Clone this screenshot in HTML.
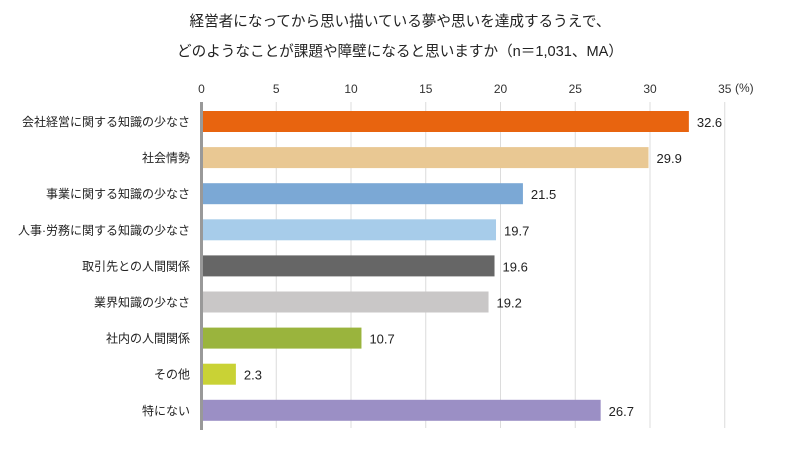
<!DOCTYPE html>
<html><head><meta charset="utf-8">
<style>
body{margin:0;background:#fff;}
svg text{font-family:"Liberation Sans","Noto Sans CJK JP",sans-serif;}
</style></head>
<body>
<svg id="chart" width="794" height="448" viewBox="0 0 794 448" xmlns="http://www.w3.org/2000/svg">
<text x="400" y="26" font-size="14.6" text-anchor="middle" fill="#222">経営者になってから思い描いている夢や思いを達成するうえで、</text>
<text x="400" y="56" font-size="14.6" text-anchor="middle" fill="#222">どのようなことが課題や障壁になると思いますか（n＝1,031、MA）</text>
<g id="grid"></g>
<g id="bars"></g>
<text x="735" y="92" font-size="12" fill="#333">(%)</text>
</svg>
<script>
const categories=["会社経営に関する知識の少なさ","社会情勢","事業に関する知識の少なさ","人事·労務に関する知識の少なさ","取引先との人間関係","業界知識の少なさ","社内の人間関係","その他","特にない"];
const values=[32.6,29.9,21.5,19.7,19.6,19.2,10.7,2.3,26.7];
const ticks=[0,5,10,15,20,25,30,35];
const colors=["#E8640F","#E9C893","#7BA8D5","#A7CCEA","#666666","#C9C7C7","#9AB43D","#C9D235","#9B8FC5"];
const NS="http://www.w3.org/2000/svg";
const x0=201.5,scale=14.95,top0=121.5,step=36.1,bh=21;
const xs=v=>x0+v*scale;
const ys=i=>top0+i*step;
const grid=document.getElementById('grid'),bars=document.getElementById('bars');
function mk(t,a,p){const e=document.createElementNS(NS,t);for(const k in a)e.setAttribute(k,a[k]);p.appendChild(e);return e;}
ticks.forEach(t=>{
  if(t>0){const l=mk('line',{x1:xs(t),x2:xs(t),y1:102,y2:428,stroke:'#dcdcdc','stroke-width':1},grid);
  
  }
  const tx=mk('text',{x:xs(t),y:93,'font-size':12,'text-anchor':'middle',fill:'#333'},grid);
  tx.textContent=t;
  
  
});
categories.forEach((c,i)=>{
  const y=ys(i);
  const r=mk('rect',{x:x0,y:y-bh/2,width:xs(values[i])-x0,height:bh,fill:colors[i]},bars);
  
  
  const lb=mk('text',{x:190,y:y+4.5,'font-size':12,'text-anchor':'end',fill:'#222'},bars);
  lb.textContent=c;
  
  
  const v=mk('text',{x:xs(values[i])+8,y:y+5.5,'font-size':13,fill:'#222'},bars);
  v.textContent=values[i].toFixed(1);
  
  
});
const ax=mk('line',{x1:x0,x2:x0,y1:102,y2:430,stroke:'#999','stroke-width':3},bars);


</script>
</body></html>
